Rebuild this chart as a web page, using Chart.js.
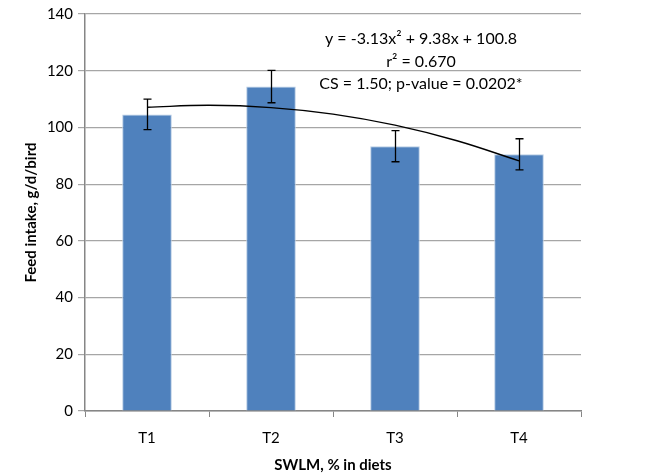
<!DOCTYPE html>
<html>
<head>
<meta charset="utf-8">
<script src="https://cdn.jsdelivr.net/npm/chart.js@4/dist/chart.umd.min.js"></script>
<style>
  html, body { margin: 0; padding: 0; background: #fff; }
  #wrap { width: 646px; height: 476px; }
</style>
</head>
<body>
<div id="wrap"><canvas id="feedChart" width="646" height="476"></canvas></div>
<script>
// data
const treatments = ['T1', 'T2', 'T3', 'T4'];
const feedIntake = [104.6, 114.4, 93.4, 90.5];
const feedError = [5.4, 5.7, 5.5, 5.5];
// fitted quadratic as traced on the figure (x = treatment index)
const trendX = [1, 1.5, 2, 2.5, 3, 3.5, 4];
const trendY = [107.1, 107.8, 107.0, 104.7, 100.8, 95.3, 88.2];
const yTicks = [0, 20, 40, 60, 80, 100, 120, 140];
const noteLines = ['y = -3.13x² + 9.38x + 100.8', 'r² = 0.670', 'CS = 1.50; p-value = 0.0202*'];

const FONT = 'Lato, "Open Sans", sans-serif';

// error bars drawn on top of the bars
const errorBars = {
    id: 'errorBars',
    afterDatasetsDraw(chart) {
        const ctx = chart.ctx;
        const meta = chart.getDatasetMeta(0);
        const y = chart.scales.y;
        ctx.save();
        ctx.strokeStyle = '#000';
        ctx.lineWidth = 1.3;
        meta.data.forEach((bar, i) => {
            const top = y.getPixelForValue(feedIntake[i] + feedError[i]);
            const bot = y.getPixelForValue(feedIntake[i] - feedError[i]);
            const x = Math.round(bar.x) + 0.5;
            ctx.beginPath();
            ctx.moveTo(x, top); ctx.lineTo(x, bot);
            ctx.moveTo(x - 4, top); ctx.lineTo(x + 4, top);
            ctx.moveTo(x - 4, bot); ctx.lineTo(x + 4, bot);
            ctx.stroke();
        });
        ctx.restore();
    }
};

// regression note
const noteText = {
    id: 'noteText',
    afterDraw(chart) {
        const ctx = chart.ctx;
        ctx.save();
        ctx.fillStyle = '#000';
        ctx.font = '16px ' + FONT;
        ctx.textAlign = 'center';
        ctx.textBaseline = 'middle';
        const ys = [39, 62, 84];
        noteLines.forEach((t, i) => ctx.fillText(t, 421, ys[i]));
        ctx.restore();
    }
};

const ctx = document.getElementById('feedChart').getContext('2d');
new Chart(ctx, {
    type: 'bar',
    data: {
        labels: treatments,
        datasets: [{
            type: 'bar',
            data: feedIntake,
            backgroundColor: '#4f81bd',
            borderColor: '#b9cde5',
            borderWidth: 1,
            grouped: false,
            barPercentage: 0.8,
            categoryPercentage: 0.5,
            order: 2
        }, {
            type: 'line',
            xAxisID: 'xTrend',
            data: trendX.map((x, i) => ({ x: x, y: trendY[i] })),
            borderColor: '#000',
            borderWidth: 1.4,
            pointRadius: 0,
            tension: 0.4,
            fill: false,
            order: 1
        }]
    },
    options: {
        responsive: false,
        animation: false,
        layout: { padding: { top: 12, right: 65, left: 18, bottom: 0 } },
        plugins: {
            legend: { display: false },
            tooltip: { enabled: false }
        },
        scales: {
            x: {
                type: 'category',
                offset: true,
                grid: { offset: true, drawOnChartArea: false, drawTicks: true, tickLength: 6, color: '#868686' },
                border: { color: '#868686', width: 1.5 },
                ticks: { color: '#000', font: { family: FONT, size: 15 }, padding: 12 },
                title: { display: true, text: 'SWLM, % in diets', color: '#000', font: { family: FONT, size: 15, weight: 'bold' }, padding: { top: 4, bottom: 2 } },
                afterFit(scale) { scale.height = 65; }
            },
            xTrend: {
                type: 'linear',
                display: false,
                offset: false,
                min: 0.5,
                max: 4.5
            },
            y: {
                min: 0,
                max: 140,
                afterBuildTicks(scale) { scale.ticks = yTicks.map(v => ({ value: v })); },
                grid: { color: '#a6a6a6', lineWidth: 1.2, tickLength: 7 },
                border: { color: '#868686', width: 1.5 },
                ticks: { color: '#000', font: { family: FONT, size: 15 }, padding: 5 },
                title: { display: true, text: 'Feed intake, g/d/bird', color: '#000', font: { family: FONT, size: 15, weight: 'bold' }, padding: { bottom: 8 } },
                afterFit(scale) { scale.width = 67; }
            }
        }
    },
    plugins: [errorBars, noteText]
});
</script>
</body>
</html>
